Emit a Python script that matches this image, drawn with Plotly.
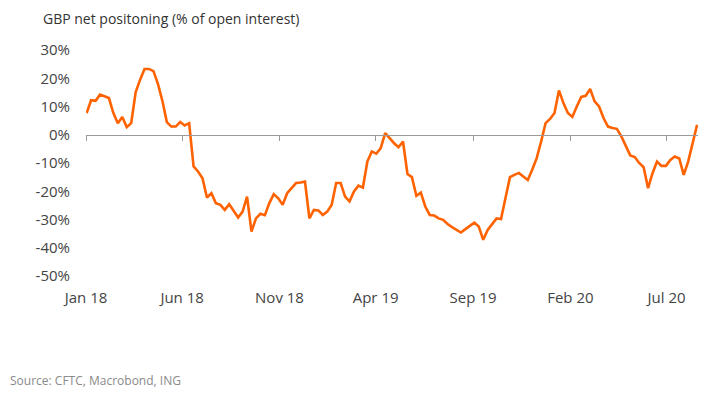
import pandas as pd
import plotly.graph_objects as go

title_text = "GBP net positoning (% of open interest)"
source_text = "Source: CFTC, Macrobond, ING"

start_date = "2018-01-02"
values = [
    7.7, 12.2, 12.0, 14.2, 13.6, 13.0, 7.7, 4.1, 6.3, 2.7,
    4.1, 15.0, 19.5, 23.3, 23.3, 22.5, 18.0, 12.0, 4.5, 2.9,
    2.9, 4.5, 3.3, 4.1, -11.2, -13.0, -15.4, -22.2, -20.7, -24.2,
    -24.8, -26.6, -24.6, -27.2, -29.3, -27.2, -21.9, -34.3, -29.6, -28.0,
    -28.5, -24.2, -21.0, -22.5, -24.8, -20.7, -18.8, -17.1, -16.9, -16.6,
    -29.6, -26.6, -26.8, -28.4, -27.2, -24.8, -17.1, -17.1, -21.9, -23.6,
    -20.1, -18.0, -18.7, -9.5, -5.9, -6.7, -4.7, 0.6, -1.2, -3.0,
    -4.4, -2.4, -13.9, -15.0, -21.6, -20.5, -25.4, -28.4, -28.6, -29.6,
    -30.1, -31.6, -32.7, -33.8, -34.6, -33.4, -32.2, -31.1, -32.5, -37.2,
    -33.7, -31.7, -29.6, -29.8, -21.9, -15.0, -14.2, -13.5, -14.8, -16.0,
    -12.4, -8.3, -2.4, 4.1, 5.6, 7.7, 15.7, 11.2, 7.7, 6.3,
    10.0, 13.4, 13.8, 16.2, 11.8, 10.0, 5.9, 2.9, 2.4, 2.1,
    -0.6, -4.1, -7.3, -7.9, -10.0, -11.5, -18.9, -13.6, -9.5, -11.0,
    -11.0, -8.9, -7.7, -8.4, -14.2, -9.5, -2.9, 3.5,
]
dates = pd.date_range(start=start_date, periods=len(values), freq="7D")

y_ticks = [30, 20, 10, 0, -10, -20, -30, -40, -50]
y_tick_labels = ["30%", "20%", "10%", "0%", "-10%", "-20%", "-30%", "-40%", "-50%"]
x_range = ["2018-01-01", "2020-09-01"]
x_tick_start = "2018-01-01"

FONT = "Open Sans"
tick_font = dict(family=FONT, size=15, color="#444444")

W, H = 698, 390
ML, MR, MT, MB = 78, 0, 42, 122
PW, PH = W - ML - MR, H - MT - MB

fig = go.Figure()
fig.add_trace(go.Scatter(
    x=dates, y=values, mode="lines",
    line=dict(color="#FF6200", width=2.6),
    hoverinfo="skip", showlegend=False,
))
# helper (invisible) trace on the axis drawn along the zero line
fig.add_trace(go.Scatter(
    x=dates, y=values, mode="lines", xaxis="x2",
    line=dict(color="rgba(0,0,0,0)", width=0),
    hoverinfo="skip", showlegend=False,
))

fig.update_layout(
    width=W, height=H,
    margin=dict(l=ML, r=MR, t=MT, b=MB),
    paper_bgcolor="white", plot_bgcolor="white",
    xaxis=dict(
        range=x_range, type="date",
        tick0=x_tick_start, dtick="M5", tickformat="%b %y",
        showgrid=False, zeroline=False, showline=False,
        ticks="", tickfont=tick_font, ticklabelstandoff=11,
    ),
    xaxis2=dict(
        range=x_range, type="date", overlaying="x",
        anchor="free", position=0.625,
        tick0=x_tick_start, dtick="M5",
        showgrid=False, zeroline=False,
        showline=True, linecolor="#9a9a9a", linewidth=1,
        ticks="outside", ticklen=5, tickcolor="#9a9a9a", tickwidth=1,
        showticklabels=False,
    ),
    yaxis=dict(
        range=[-50, 30], tickvals=y_ticks, ticktext=y_tick_labels,
        showgrid=False, zeroline=False, showline=False,
        ticks="", tickfont=tick_font, ticklabelstandoff=15,
    ),
)

fig.add_annotation(
    text=title_text, xref="paper", yref="paper",
    x=-(ML - 34) / PW, y=1 + MT / PH, xanchor="left", yanchor="top",
    borderpad=0, showarrow=False,
    font=dict(family=FONT, size=14, color="#333333"),
)
fig.add_annotation(
    text=source_text, xref="paper", yref="paper",
    x=-ML / PW, y=-(372 - MT - PH) / PH, xanchor="left", yanchor="middle",
    showarrow=False, font=dict(family=FONT, size=12, color="#8a8a8a"),
)

fig.write_html("out.html")
